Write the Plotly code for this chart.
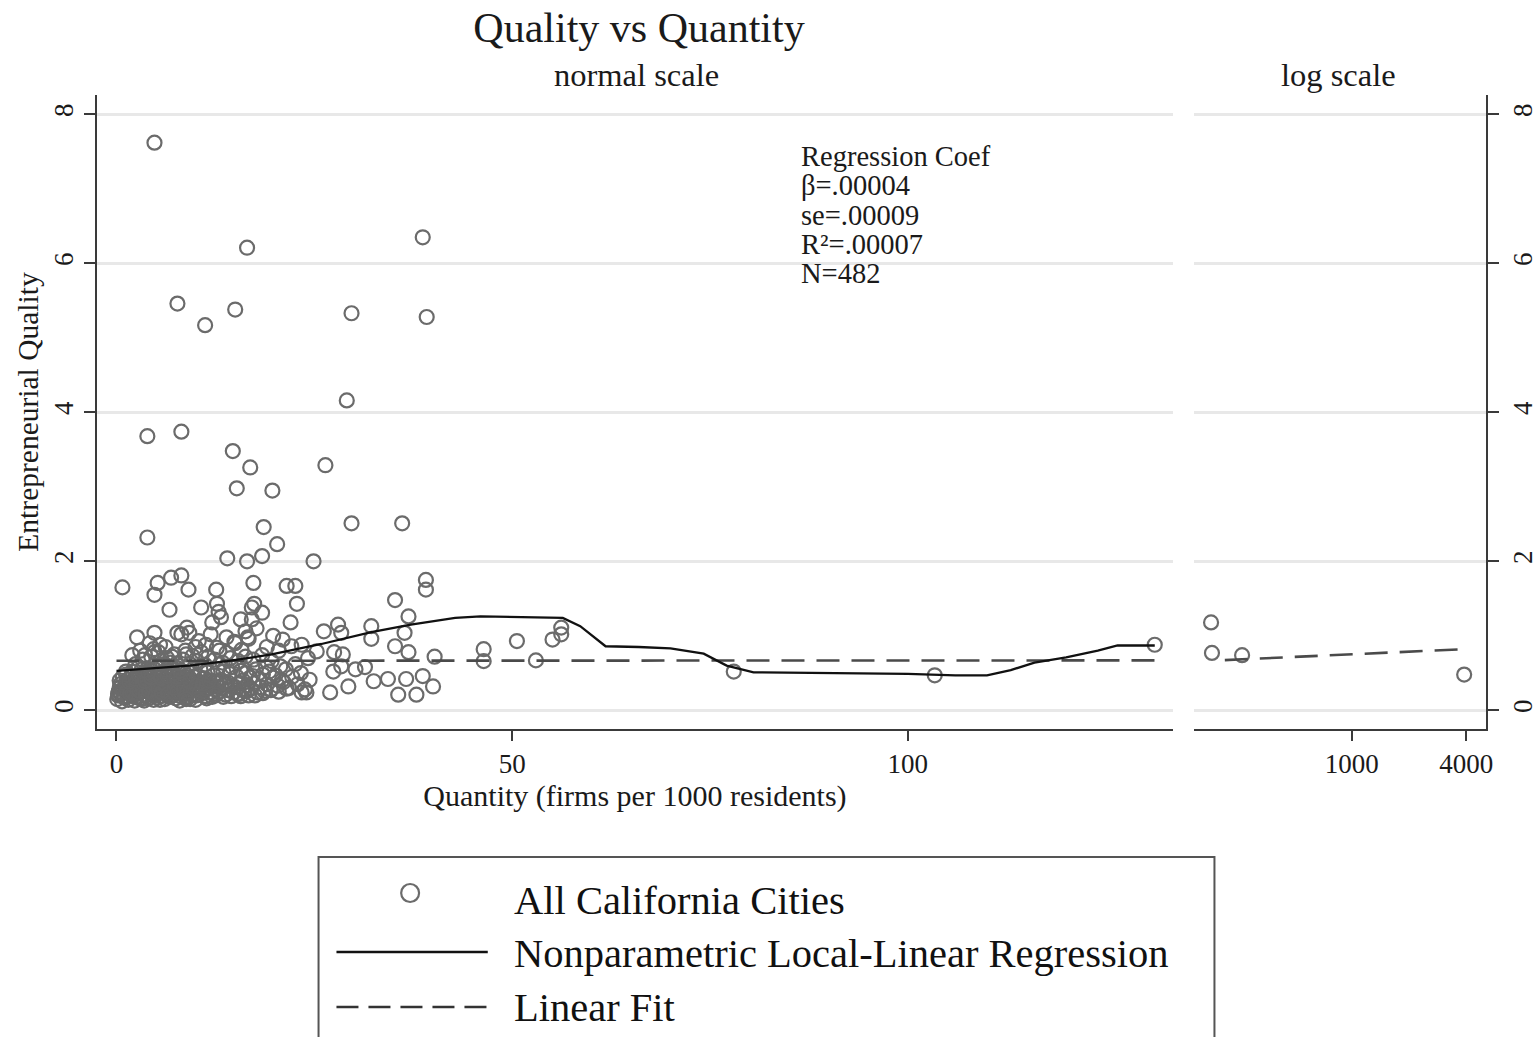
import plotly.graph_objects as go

# ---------------- data ----------------
# dense cluster of small cities (quantity, quality)
dense_qty = [
    0.1, 0.2, 0.3, 0.4, 0.5, 0.6, 0.8, 0.9,
    1.0, 1.1, 1.3, 1.4, 1.5, 1.6, 1.7, 1.9, 1.9, 1.2,
    2.0, 2.1, 2.2, 2.3, 2.5, 2.6, 2.7, 2.8, 2.9, 2.4, 2.6,
    3.0, 3.1, 3.2, 3.4, 3.5, 3.6, 3.7, 3.8, 3.9, 3.3, 3.6, 3.9,
    4.0, 4.1, 4.2, 4.3, 4.5, 4.6, 4.7, 4.8, 4.9, 4.4, 4.7, 4.2,
    5.0, 5.1, 5.2, 5.3, 5.4, 5.5, 5.6, 5.7, 5.8, 5.9, 5.3, 5.6,
    6.0, 6.1, 6.2, 6.3, 6.5, 6.6, 6.7, 6.8, 6.9, 6.4, 6.2, 6.8,
    7.0, 7.1, 7.2, 7.4, 7.5, 7.6, 7.7, 7.8, 7.9, 7.3, 7.6,
    8.0, 8.1, 8.2, 8.3, 8.5, 8.6, 8.7, 8.8, 8.9, 8.4, 8.7, 8.2,
    9.0, 9.1, 9.2, 9.4, 9.5, 9.6, 9.7, 9.8, 9.9, 9.3, 9.6,
    10.0, 10.1, 10.3, 10.4, 10.5, 10.6, 10.8, 10.9, 10.2, 10.7, 10.4,
    11.0, 11.1, 11.3, 11.4, 11.5, 11.7, 11.8, 11.9, 11.2, 11.6,
    12.0, 12.2, 12.3, 12.5, 12.6, 12.8, 12.9, 12.4, 12.7,
    13.0, 13.2, 13.3, 13.5, 13.7, 13.8, 13.4, 13.9,
    14.0, 14.1, 14.3, 14.5, 14.6, 14.8, 14.4, 14.9,
    15.0, 15.2, 15.3, 15.5, 15.7, 15.9, 15.4, 15.8,
    16.0, 16.2, 16.4, 16.5, 16.7, 16.9, 16.3, 16.6,
    17.0, 17.2, 17.4, 17.6, 17.8, 17.3, 17.7,
    18.0, 18.2, 18.5, 18.7, 18.9, 18.4,
    19.0, 19.3, 19.5, 19.8, 19.6,
    20.1, 20.4, 20.7, 20.9, 21.1, 21.4, 21.8, 22.2, 22.6, 22.9, 23.3, 23.8, 24.4,
    0.3, 0.7, 1.2, 1.8, 2.3, 2.9, 3.5, 4.1, 4.8, 5.5, 6.1, 6.7, 7.4, 8.0, 8.6, 9.3, 10.0, 10.7, 11.4, 12.1,
]
dense_qual = [
    0.15, 0.20, 0.25, 0.30, 0.35, 0.22, 0.28, 0.18,
    0.17, 0.32, 0.24, 0.41, 0.14, 0.28, 0.36, 0.21, 0.45, 0.52,
    0.19, 0.38, 0.27, 0.13, 0.46, 0.22, 0.33, 0.58, 0.16, 0.62, 0.30,
    0.24, 0.42, 0.15, 0.35, 0.51, 0.20, 0.29, 0.44, 0.18, 0.68, 0.74, 0.56,
    0.31, 0.16, 0.48, 0.26, 0.21, 0.39, 0.14, 0.55, 0.33, 0.72, 0.82, 0.90,
    0.23, 0.40, 0.17, 0.34, 0.50, 0.27, 0.19, 0.45, 0.36, 0.60, 0.78, 0.66,
    0.28, 0.15, 0.43, 0.22, 0.37, 0.53, 0.18, 0.31, 0.47, 0.70, 0.85, 0.64,
    0.20, 0.35, 0.49, 0.26, 0.16, 0.41, 0.30, 0.56, 0.23, 0.75, 0.63,
    0.32, 0.19, 0.44, 0.27, 0.52, 0.22, 0.38, 0.17, 0.47, 0.68, 0.80, 1.02,
    0.25, 0.41, 0.18, 0.34, 0.50, 0.29, 0.21, 0.45, 0.37, 0.62, 0.73,
    0.30, 0.20, 0.46, 0.26, 0.38, 0.55, 0.23, 0.42, 0.66, 0.78, 0.93,
    0.27, 0.43, 0.19, 0.35, 0.51, 0.29, 0.40, 0.24, 0.61, 0.72,
    0.33, 0.22, 0.47, 0.28, 0.39, 0.55, 0.31, 0.68, 0.84,
    0.25, 0.41, 0.30, 0.52, 0.36, 0.21, 0.64, 0.77,
    0.38, 0.27, 0.49, 0.33, 0.58, 0.24, 0.70, 0.92,
    0.31, 0.45, 0.22, 0.37, 0.53, 0.28, 0.66, 0.81,
    0.40, 0.26, 0.50, 0.34, 0.20, 0.44, 0.72, 0.98,
    0.29, 0.46, 0.36, 0.55, 0.24, 0.68, 1.10,
    0.42, 0.31, 0.48, 0.26, 0.58, 0.74,
    0.35, 0.52, 0.28, 0.44, 0.66,
    0.47, 0.33, 0.59, 0.40, 0.38, 0.55, 0.30, 0.45, 0.62, 0.35, 0.50, 0.28, 0.41,
    0.25, 0.12, 0.36, 0.28, 0.40, 0.31, 0.13, 0.38, 0.25, 0.14, 0.33, 0.26, 0.40, 0.13, 0.30, 0.15, 0.14, 0.32, 0.16, 0.18,
]

# more cities inside the dark blob near the origin
blob_qty = [
    0.2, 0.5, 0.9, 1.3, 1.7, 2.1, 2.5, 2.9, 3.3, 3.7,
    4.1, 4.5, 4.9, 5.3, 5.7, 6.1, 6.5, 6.9, 7.3, 7.7,
    8.1, 8.5, 8.9, 9.3, 9.7, 10.1, 10.5, 10.9, 11.3, 11.7,
    0.4, 0.8, 1.2, 1.6, 2.0, 2.4, 2.8, 3.2, 3.6, 4.0,
    4.4, 4.8, 5.2, 5.6, 6.0, 6.4, 6.8, 7.2, 7.6, 8.0,
    12.5, 13.5, 14.5, 15.5, 16.5, 17.5, 18.5, 19.5, 20.5, 21.5,
]
blob_qual = [
    0.22, 0.31, 0.19, 0.27, 0.23, 0.34, 0.18, 0.26, 0.30, 0.21,
    0.27, 0.33, 0.20, 0.29, 0.24, 0.36, 0.22, 0.19, 0.30, 0.25,
    0.35, 0.28, 0.24, 0.38, 0.27, 0.33, 0.24, 0.36, 0.29, 0.40,
    0.40, 0.45, 0.48, 0.38, 0.52, 0.42, 0.47, 0.55, 0.39, 0.50,
    0.44, 0.49, 0.57, 0.43, 0.52, 0.46, 0.58, 0.50, 0.45, 0.53,
    0.20, 0.18, 0.19, 0.22, 0.26, 0.20, 0.23, 0.27, 0.25, 0.29,
]

# scattered mid-range cities
spread_qty = [
    0.75, 4.8, 5.2, 6.9, 8.2, 9.1, 12.6, 17.3, 21.5, 22.6,
    39.1, 39.1, 35.2, 22.8, 17.4, 6.7, 10.7, 12.7, 12.9, 13.2,
    17.1, 18.4, 22.0, 36.9, 2.6, 4.8, 7.7, 8.9, 9.2, 11.9,
    13.9, 16.3, 16.7, 22.1, 23.4, 26.2, 28.0, 28.4, 32.2, 32.2,
    36.4, 35.2, 36.9, 40.2, 46.4, 46.4, 50.6, 55.1, 56.2, 56.2,
    53.0, 78.0, 103.4, 131.2, 25.3, 27.5, 28.6, 27.4, 28.4, 30.2,
    31.4, 34.3, 36.6, 38.7, 40.0, 32.5, 29.3, 27.0, 35.6, 37.9,
    23.4, 24.0, 15.7, 8.8, 12.1, 15.7, 17.1, 4.8, 7.0, 8.8,
    2.0, 3.0, 5.5, 10.0, 11.3, 13.0, 15.0, 19.0, 20.5, 21.0,
    24.2, 19.8,
]
spread_qual = [
    1.65, 1.55, 1.71, 1.78, 1.81, 1.62, 1.62, 1.71, 1.67, 1.67,
    1.75, 1.62, 1.48, 1.43, 1.43, 1.35, 1.38, 1.43, 1.32, 1.25,
    1.38, 1.31, 1.18, 1.26, 0.98, 1.04, 1.04, 1.11, 1.04, 1.02,
    0.98, 1.06, 0.96, 0.86, 0.88, 1.06, 1.15, 1.04, 1.13, 0.96,
    1.04, 0.86, 0.78, 0.72, 0.82, 0.66, 0.93, 0.95, 1.11, 1.02,
    0.67, 0.52, 0.47, 0.88, 0.79, 0.78, 0.75, 0.52, 0.59, 0.55,
    0.58, 0.42, 0.42, 0.46, 0.32, 0.39, 0.32, 0.24, 0.21, 0.21,
    0.24, 0.24, 0.19, 0.15, 1.18, 1.22, 1.22, 0.78, 0.72, 0.75,
    0.74, 0.80, 0.88, 0.85, 0.88, 0.80, 0.90, 0.85, 0.80, 0.95,
    0.70, 1.00,
]

# high-quality outliers
outlier_qty = [
    4.8, 16.5, 38.7, 7.7, 11.2, 15.0, 29.7, 39.2, 29.1, 3.9,
    8.2, 14.7, 16.9, 15.2, 19.7, 26.4, 29.7, 36.1, 3.9, 18.6,
    20.3, 18.4, 14.0, 16.5, 24.9,
]
outlier_qual = [
    7.62, 6.21, 6.35, 5.46, 5.17, 5.38, 5.33, 5.28, 4.16, 3.68,
    3.74, 3.48, 3.26, 2.98, 2.95, 3.29, 2.51, 2.51, 2.32, 2.46,
    2.23, 2.07, 2.04, 2.00, 2.00,
]

# cities shown on the log-scale panel
log_qty = [182, 184, 265, 3900]
log_qual = [1.18, 0.77, 0.74, 0.48]

# nonparametric local-linear regression curve
np_qty = [0, 5, 9.2, 14, 19.6, 25.9, 32.2, 37.2, 42.8, 46, 52, 56.4, 58.6, 61.8,
          66, 70, 74.2, 77.1, 80.5, 90, 100, 106, 110, 113, 116, 120, 124, 126.5, 131.2]
np_qual = [0.53, 0.57, 0.60, 0.66, 0.75, 0.89, 1.05, 1.15, 1.24, 1.26, 1.25, 1.24, 1.13, 0.86,
           0.85, 0.83, 0.76, 0.60, 0.51, 0.50, 0.49, 0.47, 0.47, 0.54, 0.64, 0.71, 0.80, 0.87, 0.87]

# linear fit (beta = .00004)
fit_qty = [0, 131.2]
fit_qual = [0.665, 0.670]
fit_log_qty = [215, 3900]
fit_log_qual = [0.674, 0.821]

x_ticks = [0, 50, 100]
x_log_ticks = [1000, 4000]
y_ticks = [0, 2, 4, 6, 8]
stats_lines = ["Regression Coef", "β=.00004", "se=.00009", "R²=.00007", "N=482"]
legend_labels = ["All California Cities", "Nonparametric Local-Linear Regression", "Linear Fit"]

# ---------------- figure ----------------
W, H = 1540, 1037
FONT = "Liberation Serif, Times New Roman, serif"
PT_COL = "#6b6b6b"
AX_COL = "#3a3a3a"
GRID_COL = "#e8e8e8"
TXT_COL = "#1a1a1a"


def fx(p):
    return p / W


def fy(p):
    return 1 - p / H


all_qty = dense_qty + blob_qty + spread_qty + outlier_qty
all_qual = dense_qual + blob_qual + spread_qual + outlier_qual

marker = dict(symbol="circle-open", size=14, color=PT_COL, line=dict(width=2.2, color=PT_COL))

fig = go.Figure()
fig.add_trace(go.Scatter(x=all_qty, y=all_qual, mode="markers", marker=marker,
                         name=legend_labels[0], xaxis="x", yaxis="y"))
fig.add_trace(go.Scatter(x=log_qty, y=log_qual, mode="markers", marker=marker,
                         name=legend_labels[0], xaxis="x2", yaxis="y2"))
fig.add_trace(go.Scatter(x=fit_qty, y=fit_qual, mode="lines",
                         line=dict(color="#4a4a4a", width=2.6, dash="23px,12px"),
                         name=legend_labels[2], xaxis="x", yaxis="y"))
fig.add_trace(go.Scatter(x=fit_log_qty, y=fit_log_qual, mode="lines",
                         line=dict(color="#4a4a4a", width=2.6, dash="23px,12px"),
                         name=legend_labels[2], xaxis="x2", yaxis="y2"))
fig.add_trace(go.Scatter(x=np_qty, y=np_qual, mode="lines",
                         line=dict(color="#111111", width=2.3),
                         name=legend_labels[1], xaxis="x", yaxis="y"))

tickfont = dict(family=FONT, size=27, color=TXT_COL)
common_x = dict(ticks="outside", ticklen=10, tickwidth=2, tickcolor=AX_COL,
                showline=True, linecolor=AX_COL, linewidth=2, showgrid=False,
                zeroline=False, tickfont=tickfont)
common_y = dict(ticks="outside", ticklen=11, tickwidth=2, tickcolor=AX_COL,
                showline=True, linecolor=AX_COL, linewidth=2, showgrid=True,
                gridcolor=GRID_COL, gridwidth=2.5, zeroline=False, tickfont=tickfont,
                tickangle=-90, tickvals=y_ticks, range=[-0.251, 8.26],
                domain=[fy(729), fy(95)])

fig.update_layout(
    width=W, height=H, autosize=False,
    margin=dict(l=0, r=0, t=0, b=0),
    paper_bgcolor="white", plot_bgcolor="white",
    showlegend=False,
    font=dict(family=FONT, color=TXT_COL),
    title=dict(text="Quality vs Quantity", x=fx(639), xanchor="center",
               y=fy(27), yanchor="middle", font=dict(family=FONT, size=42, color=TXT_COL)),
    xaxis=dict(domain=[fx(97.7), fx(1178)], range=[-2.43, 133.46], tickvals=x_ticks,
               anchor="y",
               title=dict(text="Quantity (firms per 1000 residents)",
                          font=dict(family=FONT, size=30, color=TXT_COL), standoff=0),
               **common_x),
    xaxis2=dict(domain=[fx(1199), fx(1493)], type="log", range=[2.168, 3.707],
                tickvals=x_log_ticks, ticktext=[str(v) for v in x_log_ticks],
                anchor="y2", **common_x),
    yaxis=dict(anchor="x", side="left",
               title=dict(text="Entrepreneurial Quality",
                          font=dict(family=FONT, size=29.5, color=TXT_COL), standoff=2),
               **common_y),
    yaxis2=dict(anchor="x2", side="right", **common_y),
)

ann = []
ann.append(dict(text="normal scale", x=fx(639), y=fy(75), xref="paper", yref="paper",
                xanchor="center", yanchor="middle", showarrow=False,
                font=dict(family=FONT, size=32.5, color=TXT_COL)))
ann.append(dict(text="log scale", x=fx(1345), y=fy(75), xref="paper", yref="paper",
                xanchor="center", yanchor="middle", showarrow=False,
                font=dict(family=FONT, size=32.5, color=TXT_COL)))
for txt, ypx in zip(stats_lines, [156, 185, 215, 245, 273]):
    ann.append(dict(text=txt, x=fx(803), y=fy(ypx), xref="paper", yref="paper",
                    xanchor="left", yanchor="middle", showarrow=False,
                    font=dict(family=FONT, size=28.5, color=TXT_COL)))
for txt, ypx in zip(legend_labels, [900, 953, 1007]):
    ann.append(dict(text=txt, x=fx(514), y=fy(ypx), xref="paper", yref="paper",
                    xanchor="left", yanchor="middle", showarrow=False,
                    font=dict(family=FONT, size=40.5, color="#111111")))

shapes = [
    # legend frame
    dict(type="rect", xref="paper", yref="paper", x0=fx(320), x1=fx(1220),
         y0=fy(1060), y1=fy(857), line=dict(color="#555555", width=2), fillcolor="rgba(0,0,0,0)"),
    # legend symbols
    dict(type="circle", xref="paper", yref="paper", x0=fx(403), x1=fx(421),
         y0=fy(902), y1=fy(884), line=dict(color=PT_COL, width=2.2)),
    dict(type="line", xref="paper", yref="paper", x0=fx(338), x1=fx(490),
         y0=fy(952), y1=fy(952), line=dict(color="#111111", width=2.5)),
    dict(type="line", xref="paper", yref="paper", x0=fx(338), x1=fx(490),
         y0=fy(1007), y1=fy(1007), line=dict(color="#333333", width=2.5, dash="22px,10px")),
]

fig.update_layout(annotations=ann, shapes=shapes)
fig.write_html("out.html")
